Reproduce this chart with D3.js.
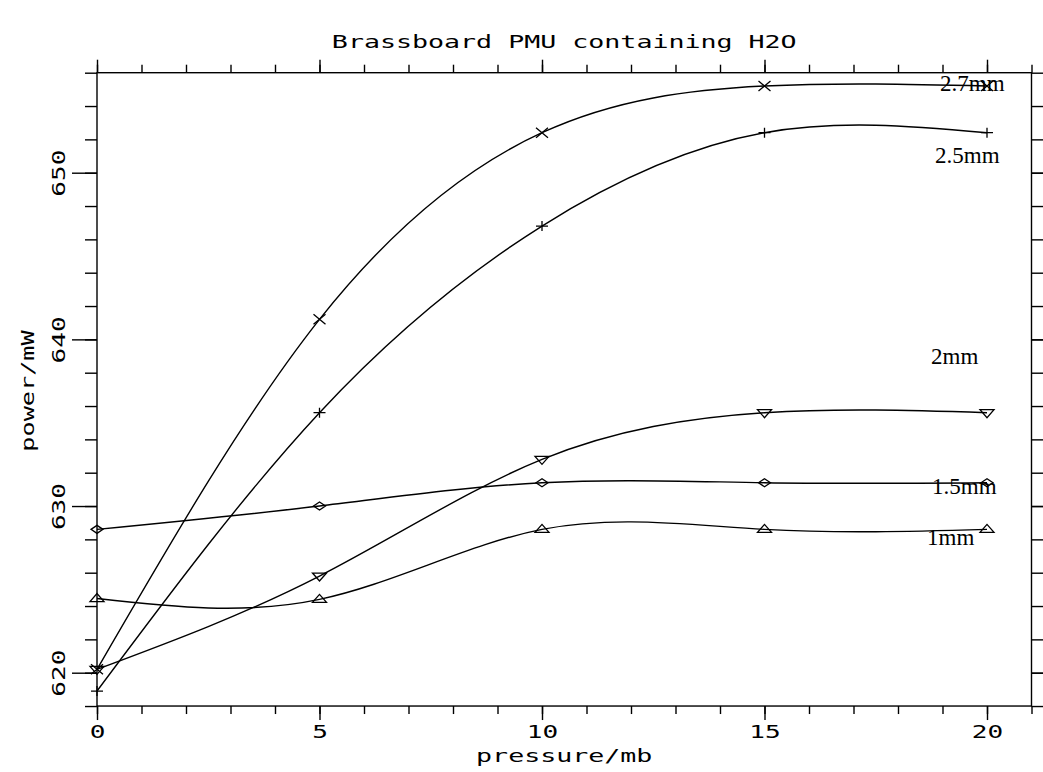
<!DOCTYPE html>
<html><head><meta charset="utf-8">
<script src="https://cdn.jsdelivr.net/npm/d3@7"></script>
<style>body{margin:0;background:#fff}svg{display:block}</style>
</head><body>
<svg id="c" width="1043" height="772"></svg>
<script>
// ---- data ----
const pressures = [0, 5, 10, 15, 20];
const seriesNames = ["2.7mm", "2.5mm", "2mm", "1.5mm", "1mm"];
const power27 = [620.2, 641.2, 652.4, 655.2, 655.2];
const power25 = [618.9, 635.6, 646.8, 652.4, 652.4];
const power20 = [620.2, 625.8, 632.8, 635.6, 635.6];
const power15 = [628.6, 630.0, 631.4, 631.4, 631.4];
const power10 = [624.45, 624.4, 628.6, 628.6, 628.6];
const markerTypes = ["cross", "plus", "tridown", "diamond", "triup"];
const xMajorTicks = [0, 5, 10, 15, 20];
const yMajorTicks = [620, 630, 640, 650];
const titleText = "Brassboard PMU containing H2O";
const xLabelText = "pressure/mb";
const yLabelText = "power/mW";

// ---- layout ----
const labelOffsets = [[-47, 5], [-52, 30], [-56, -49], [-55, 11], [-60, 16]];
const W = 1043, H = 772;
const x = d3.scaleLinear().domain([0, 20]).range([97, 987]);
const y = d3.scaleLinear().domain([620, 650]).range([672.7, 172.7]);
const xMin = 0, xMax = 21, yMin = 618, yMax = 656;
const monoFont = "'DejaVu Sans Mono', monospace";
const SX = 1.45;

const svg = d3.select("#c");
svg.append("rect").attr("width", W).attr("height", H).attr("fill", "#fff");

const allSeries = [power27, power25, power20, power15, power10];

// frame
const frame = svg.append("g").attr("stroke", "#000").attr("stroke-width", 1.4).attr("fill", "none");
frame.append("rect")
  .attr("x", x(xMin)).attr("y", y(yMax))
  .attr("width", x(xMax) - x(xMin)).attr("height", y(yMin) - y(yMax));

function styleAxis(g) {
  g.select(".domain").remove();
  g.selectAll(".tick line").attr("stroke", "#000").attr("stroke-width", 1.4);
}
const xMinor = d3.range(xMin, xMax + 1, 1);
const yMinor = d3.range(yMin, yMax + 1, 2);

// bottom
svg.append("g").attr("transform", `translate(0,${y(yMin)})`)
  .call(d3.axisBottom(x).tickValues(xMinor).tickSize(8).tickFormat("")).call(styleAxis);
const bx = svg.append("g").attr("transform", `translate(0,${y(yMin)})`)
  .call(d3.axisBottom(x).tickValues(xMajorTicks).tickSize(14).tickFormat(d3.format("d"))).call(styleAxis);
bx.selectAll(".tick text")
  .attr("y", null).attr("dy", null)
  .attr("transform", `translate(0,32) scale(${SX},1)`)
  .attr("font-family", monoFont).attr("font-size", 18).attr("fill", "#000");

// top
svg.append("g").attr("transform", `translate(0,${y(yMax)})`)
  .call(d3.axisTop(x).tickValues(xMinor).tickSize(8).tickFormat("")).call(styleAxis);
svg.append("g").attr("transform", `translate(0,${y(yMax)})`)
  .call(d3.axisTop(x).tickValues(xMajorTicks).tickSize(13).tickFormat("")).call(styleAxis);

// left
svg.append("g").attr("transform", `translate(${x(xMin)},0)`)
  .call(d3.axisLeft(y).tickValues(yMinor).tickSize(12).tickFormat("")).call(styleAxis);
const ly = svg.append("g").attr("transform", `translate(${x(xMin)},0)`)
  .call(d3.axisLeft(y).tickValues(yMajorTicks).tickSize(25).tickFormat(d3.format("d"))).call(styleAxis);
ly.selectAll(".tick text")
  .attr("x", null).attr("dy", null)
  .attr("text-anchor", "middle")
  .attr("transform", `translate(-32,0) rotate(-90) scale(${SX},1)`)
  .attr("font-family", monoFont).attr("font-size", 18).attr("fill", "#000");

// right
svg.append("g").attr("transform", `translate(${x(xMax)},0)`)
  .call(d3.axisRight(y).tickValues(yMinor).tickSize(12).tickFormat("")).call(styleAxis);
svg.append("g").attr("transform", `translate(${x(xMax)},0)`)
  .call(d3.axisRight(y).tickValues(yMajorTicks).tickSize(25).tickFormat("")).call(styleAxis);

// title and axis titles
svg.append("text").text(titleText)
  .attr("transform", `translate(${(x(xMin) + x(xMax)) / 2},48) scale(1.48,1)`)
  .attr("text-anchor", "middle").attr("font-family", monoFont).attr("font-size", 18).attr("fill", "#000");
svg.append("text").text(xLabelText)
  .attr("transform", `translate(${(x(xMin) + x(xMax)) / 2},762) scale(1.48,1)`)
  .attr("text-anchor", "middle").attr("font-family", monoFont).attr("font-size", 18).attr("fill", "#000");
svg.append("text").text(yLabelText)
  .attr("transform", `translate(34,${y(636.9)}) rotate(-90) scale(1.4,1)`)
  .attr("text-anchor", "middle").attr("font-family", monoFont).attr("font-size", 18).attr("fill", "#000");

// curves
const line = d3.line().x((d, i) => x(pressures[i])).y(d => y(d)).curve(d3.curveNatural);
const plot = svg.append("g");
allSeries.forEach(vals => {
  plot.append("path").attr("d", line(vals))
    .attr("fill", "none").attr("stroke", "#000").attr("stroke-width", 1.4);
});

// markers
const markerPaths = {
  cross: "M-6,-5L6,5M-6,5L6,-5",
  plus: "M-6,0L6,0M0,-5L0,5",
  tridown: "M-7,-3L7,-3L0,5Z",
  triup: "M-7,3L7,3L0,-5Z",
  diamond: "M-6,0L0,-4L6,0L0,4Z"
};
allSeries.forEach((vals, si) => {
  plot.selectAll(null).data(vals).enter().append("path")
    .attr("transform", (d, i) => `translate(${x(pressures[i])},${y(d)})`)
    .attr("d", markerPaths[markerTypes[si]])
    .attr("fill", "none")
    .attr("stroke", "#000").attr("stroke-width", 1.3);
});

// series labels
allSeries.forEach((vals, si) => {
  const last = vals.length - 1;
  svg.append("text").text(seriesNames[si])
    .attr("x", x(pressures[last]) + labelOffsets[si][0])
    .attr("y", y(vals[last]) + labelOffsets[si][1])
    .attr("font-family", "'Liberation Serif', 'Times New Roman', serif")
    .attr("font-size", 23).attr("fill", "#000");
});
</script>
</body></html>
